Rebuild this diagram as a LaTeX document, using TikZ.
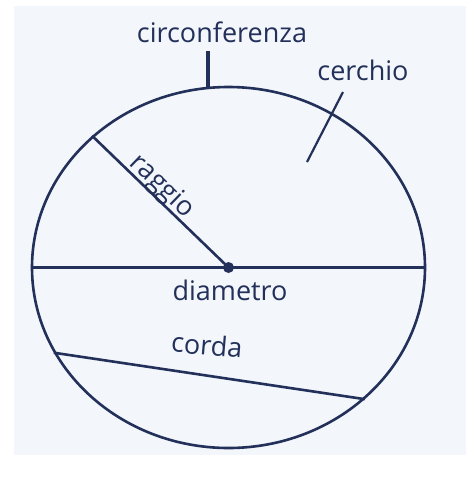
\documentclass[tikz,border=0pt]{standalone}
\usepackage{fontspec}
\setmainfont{Open Sans}
\usetikzlibrary{shapes.geometric}
\definecolor{ink}{HTML}{22305A}
\definecolor{paper}{HTML}{F3F6FA}
\tikzset{
  stroke/.style={draw=ink, line width=2.6pt},
  lbl/.style={text=ink, font=\fontsize{27}{32}\selectfont, inner sep=0pt},
}
\begin{document}
\begin{tikzpicture}[x=1pt,y=-1pt]
\useasboundingbox (0,0) rectangle (474,480);
\fill[white] (0,0) rectangle (474,480);
\fill[paper] (14,6) rectangle (466,455);
\node[ellipse, stroke, minimum width=393pt, minimum height=361pt, inner sep=0pt] (circ) at (228.5,267.5) {};
\fill[ink] (circ.center) circle[radius=5.5pt];
\coordinate (center) at (circ.center);
% diameter
\draw[stroke] (circ.west) -- (circ.east);
% radius
\draw[stroke] (circ.136.5) -- node[lbl, sloped, above=-3pt, pos=0.45] {raggio} (center);
% chord
\draw[stroke] (circ.206.6) -- (circ.316.9);
% labels
\node[lbl, anchor=base] (circonf) at (222,42) {circonferenza};
\coordinate (tickbot) at (208,88);
\coordinate (ticktop) at (208,51);
\draw[draw=ink, line width=3.5pt] (ticktop) -- (tickbot);
\node[lbl, anchor=base] (cerchio) at (363,80) {cerchio};
\coordinate (cA) at (343,92);
\coordinate (cB) at (307,162);
\draw[stroke, line width=2.2pt] (cA) -- (cB);
\node[lbl, anchor=base] (diam) at (230,300) {diametro};
\node[lbl, anchor=base, rotate=-5] (corda) at (206,355) {corda};
\end{tikzpicture}
\end{document}
